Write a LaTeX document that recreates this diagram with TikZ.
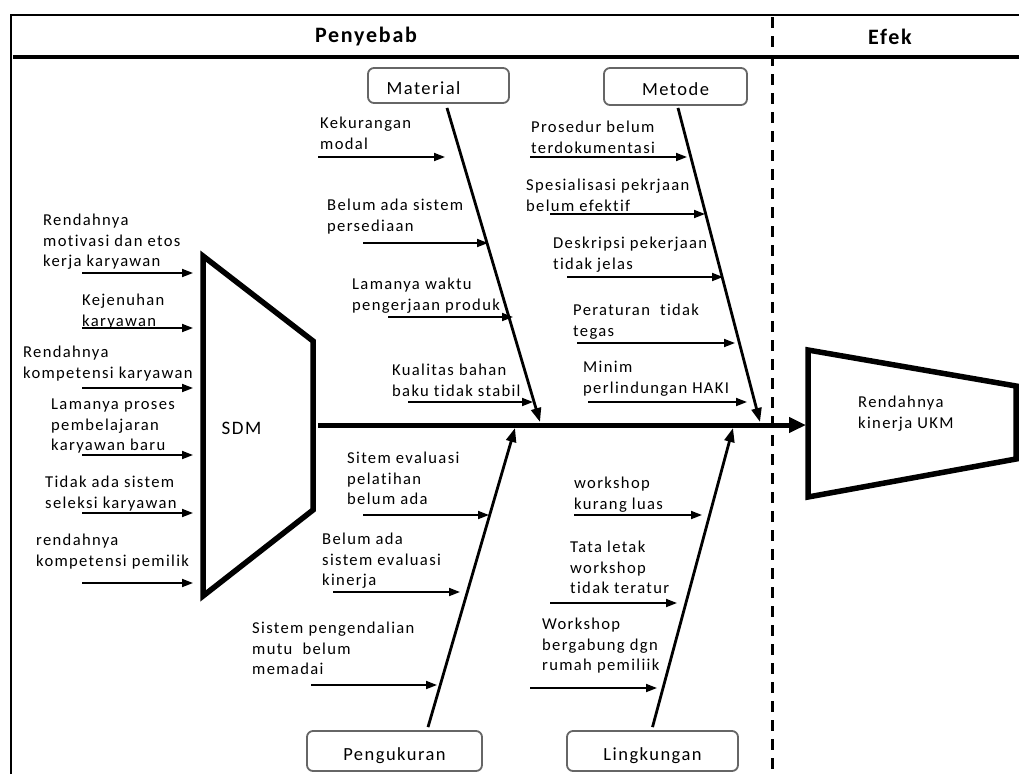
\documentclass[tikz,border=0pt]{standalone}
\usepackage{fontspec}
\setmainfont[LetterSpace=8, Ligatures=NoCommon]{Carlito}
\usepackage{tikz}
\usetikzlibrary{positioning, arrows.meta}
\tikzstyle{cause} = [anchor=north west, align=left, inner sep=0pt, font=\fontsize{16.6}{20.5}\selectfont]
\tikzstyle{category} = [draw=black!60, rounded corners=6pt, line width=1.8pt, inner sep=0pt, text height=18pt, text depth=0pt, font=\fontsize{18.5}{20}\selectfont]
\tikzstyle{subarrow} = [line width=1.8pt, -{Triangle[length=11pt,width=8pt]}]
\tikzstyle{bone} = [line width=2.8pt, -{Triangle[length=14pt,width=10pt]}]
\tikzstyle{heading} = [font=\bfseries\fontsize{22}{24}\selectfont]

\begin{document}
\begin{tikzpicture}[x=1pt, y=-1pt]
  \useasboundingbox (0,0) rectangle (1019,774);

  % Frame and header
  \draw[line width=2.5pt] (11,774) -- (11,15) -- (1019,15);
  \draw[line width=4pt] (13,57) -- (1019,57);
  \draw[line width=3pt, dash pattern=on 11pt off 8pt] (772,17) -- (772,774);
  \node[heading] (penyebab) at (366,37) {Penyebab};
  \node[heading] (efek) at (890,37) {Efek};

  % Categories
  \node[category, minimum width=141pt, minimum height=35pt] (mat) at (438.5,85.5) {Material\kern30pt};
  \node[category, minimum width=143pt, minimum height=37pt] (met) at (675.5,86.5) {Metode};
  \node[category, minimum width=175pt, minimum height=40pt] (pen) at (394.5,751) {Pengukuran};
  \node[category, minimum width=171pt, minimum height=40pt] (lin) at (652.5,751) {Lingkungan};

  % Head and tail
  \draw[line width=5.5pt] (203,256) -- (313,341) -- (313,510) -- (203,596) -- cycle;
  \node[font=\fontsize{19}{20}\selectfont] (sdm) at (241.5,428) {SDM};
  \draw[line width=5.5pt] (808,350) -- (1016,386) -- (1016,459) -- (808,497) -- cycle;
  \node[cause] (ukm) at (858,396) {Rendahnya\\kinerja UKM};

  % Spine
  \coordinate (spinestart) at (318,425);
  \coordinate (spineend) at (806,425);
  \draw[line width=5pt, -{Triangle[length=17pt,width=15pt]}] (spinestart) -- (spineend);

  % Bones
  \coordinate (mattip) at (540,422);
  \coordinate (mettip) at (760,422);
  \coordinate (pentip) at (515,428);
  \coordinate (lintip) at (733,428);
  \draw[bone] ([xshift=8.5pt, yshift=-4pt]mat.south) -- (mattip);
  \draw[bone] ([xshift=2.5pt, yshift=-2pt]met.south) -- (mettip);
  \draw[bone] ([xshift=33.5pt, yshift=3pt]pen.north) -- (pentip);
  \draw[bone] ([yshift=3pt]lin.north) -- (lintip);

  % SDM
  \node[cause] (sdm1) at (43,214) {Rendahnya\\motivasi dan etos\\kerja karyawan};
  \node[cause] (sdm2) at (82,294) {Kejenuhan\\karyawan};
  \node[cause] (sdm3) at (23,346) {Rendahnya\\kompetensi karyawan};
  \node[cause] (sdm4) at (51,399) {Lamanya proses\\pembelajaran\\karyawan baru};
  \node[cause] (sdm5) at (45,476) {Tidak ada sistem\\seleksi karyawan};
  \node[cause] (sdm6) at (36,534) {rendahnya\\kompetensi pemilik};
  \coordinate (sdmin) at (193,425);
  \coordinate (sdm1s) at (82,273);
  \coordinate (sdm2s) at (82,328);
  \coordinate (sdm3s) at (82,388);
  \coordinate (sdm4s) at (82,455);
  \coordinate (sdm5s) at (82,513);
  \coordinate (sdm6s) at (82,583);
  \draw[subarrow] (sdm1s) -- (sdm1s -| sdmin);
  \draw[subarrow] (sdm2s) -- (sdm2s -| sdmin);
  \draw[subarrow] (sdm3s) -- (sdm3s -| sdmin);
  \draw[subarrow] (sdm4s) -- (sdm4s -| sdmin);
  \draw[subarrow] (sdm5s) -- (sdm5s -| sdmin);
  \draw[subarrow] (sdm6s) -- (sdm6s -| sdmin);

  % Material
  \node[cause] (mat1) at (320,117) {Kekurangan\\modal};
  \node[cause] (mat2) at (327,199) {Belum ada sistem\\persediaan};
  \node[cause] (mat3) at (352,278) {Lamanya waktu\\pengerjaan produk};
  \node[cause] (mat4) at (392,364) {Kualitas bahan\\baku tidak stabil};
  \coordinate (mat1s) at (318,157); \coordinate (mat1e) at (445,157);
  \coordinate (mat2s) at (363,243); \coordinate (mat2e) at (488,243);
  \coordinate (mat3s) at (388,317); \coordinate (mat3e) at (513,317);
  \coordinate (mat4s) at (408,402); \coordinate (mat4e) at (533,402);
  \draw[subarrow] (mat1s) -- (mat1e);
  \draw[subarrow] (mat2s) -- (mat2e);
  \draw[subarrow] (mat3s) -- (mat3e);
  \draw[subarrow] (mat4s) -- (mat4e);

  % Metode
  \node[cause] (met1) at (531,121) {Prosedur belum\\terdokumentasi};
  \node[cause] (met2) at (526,179) {Spesialisasi pekrjaan\\belum efektif};
  \node[cause] (met3) at (553,237) {Deskripsi pekerjaan\\tidak jelas};
  \node[cause] (met4) at (573,304) {Peraturan\ \ tidak\\tegas};
  \node[cause] (met5) at (583,361) {Minim\\perlindungan HAKI};
  \coordinate (met1s) at (530,157); \coordinate (met1e) at (687,157);
  \coordinate (met2s) at (550,214); \coordinate (met2e) at (705,214);
  \coordinate (met3s) at (567,277); \coordinate (met3e) at (723,277);
  \coordinate (met4s) at (577,343); \coordinate (met4e) at (735,343);
  \coordinate (met5s) at (588,402); \coordinate (met5e) at (747,402);
  \draw[subarrow] (met1s) -- (met1e);
  \draw[subarrow] (met2s) -- (met2e);
  \draw[subarrow] (met3s) -- (met3e);
  \draw[subarrow] (met4s) -- (met4e);
  \draw[subarrow] (met5s) -- (met5e);

  % Pengukuran
  \node[cause] (pen1) at (347,452) {Sitem evaluasi\\pelatihan\\belum ada};
  \node[cause] (pen2) at (322,533) {Belum ada\\sistem evaluasi\\kinerja};
  \node[cause] (pen3) at (252,622) {Sistem pengendalian\\mutu\ \ belum\\memadai};
  \coordinate (pen1s) at (363,515); \coordinate (pen1e) at (489,515);
  \coordinate (pen2s) at (333,592); \coordinate (pen2e) at (460,592);
  \coordinate (pen3s) at (311,685); \coordinate (pen3e) at (437,685);
  \draw[subarrow] (pen1s) -- (pen1e);
  \draw[subarrow] (pen2s) -- (pen2e);
  \draw[subarrow] (pen3s) -- (pen3e);

  % Lingkungan
  \node[cause] (lin1) at (574,477) {workshop\\kurang luas};
  \node[cause] (lin2) at (570,541) {Tata letak\\workshop\\tidak teratur};
  \node[cause] (lin3) at (542,618) {Workshop\\bergabung dgn\\rumah pemiliik};
  \coordinate (lin1s) at (574,515); \coordinate (lin1e) at (702,515);
  \coordinate (lin2s) at (550,603); \coordinate (lin2e) at (677,603);
  \coordinate (lin3s) at (530,688); \coordinate (lin3e) at (657,688);
  \draw[subarrow] (lin1s) -- (lin1e);
  \draw[subarrow] (lin2s) -- (lin2e);
  \draw[subarrow] (lin3s) -- (lin3e);
\end{tikzpicture}
\end{document}
